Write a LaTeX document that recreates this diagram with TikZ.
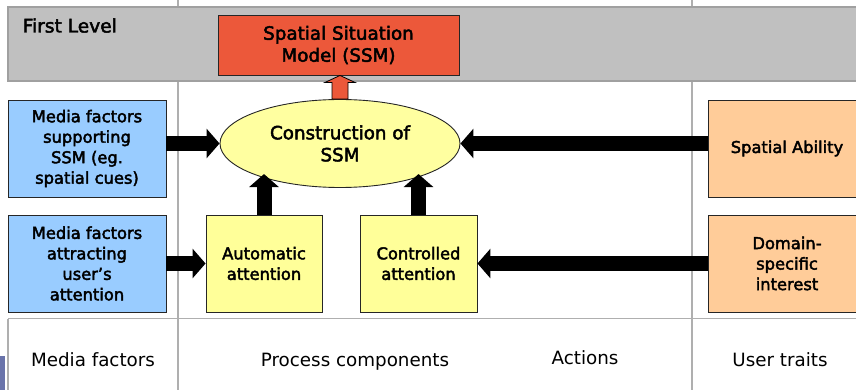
\documentclass[tikz,border=0pt]{standalone}
\usepackage{fontspec}
\usetikzlibrary{arrows.meta,shapes.geometric,calc}
\newfontfamily\bfont{DejaVu Sans}[FakeBold=2.5]
\newfontfamily\rfont{DejaVu Sans}
\definecolor{bandc}{RGB}{192,192,192}
\definecolor{bandl}{RGB}{160,160,160}
\definecolor{gridc}{RGB}{175,175,175}
\definecolor{blue1}{RGB}{153,204,255}
\definecolor{yell}{RGB}{255,255,153}
\definecolor{ellc}{RGB}{255,255,160}
\definecolor{orng}{RGB}{255,204,153}
\definecolor{ssmred}{RGB}{236,88,58}
\definecolor{artc}{RGB}{105,115,170}
\begin{document}
\begin{tikzpicture}[x=1pt,y=-1pt,
  box/.style={draw=black!85, line width=0.9pt, inner sep=0pt, align=center,
    font=\bfont\fontsize{16.3}{20.5}\selectfont},
  big/.style={font=\bfont\fontsize{18.3}{22}\selectfont},
  blk/.style={line width=15pt, -{Triangle[length=13pt,width=29pt]}},
  lbl/.style={font=\rfont\fontsize{18.3}{20}\selectfont, anchor=base},
  grid/.style={draw=gridc, line width=1.3pt}]
\useasboundingbox (0,0) rectangle (856,390);
% column and row lines
\draw[grid] (178,0) -- (178,390);
\draw[grid] (692,0) -- (692,390);
\draw[grid] (8,318.5) -- (860,318.5);
\draw[grid] (8,318.5) -- (8,392);
% first level band
\draw[draw=bandl, fill=bandc, line width=1.2pt] (8,7) rectangle (862,81);
\node[font=\bfont\fontsize{18.6}{20}\selectfont, anchor=base west, inner sep=0pt] (fl) at (22.5,32.5) {First Level};
% small artifact bottom left
\fill[artc] (0,356) rectangle (5,390);
% nodes
\node[box, big, fill=ssmred, minimum width=241pt, minimum height=60pt] (ssm) at (338.5,45)
  {Spatial Situation\\Model (SSM)};
\node[box, big, ellipse, fill=ellc, minimum width=240pt, minimum height=88pt] (ell) at (340,143.5)
  {Construction of\\SSM};
\node[box, fill=blue1, minimum width=158pt, minimum height=97pt] (mf1) at (87,148.5)
  {Media factors\\supporting\\SSM (eg.\\spatial cues)};
\node[box, fill=blue1, minimum width=158pt, minimum height=97pt] (mf2) at (87,263.5)
  {Media factors\\attracting\\user’s\\attention};
\node[box, fill=yell, minimum width=116pt, minimum height=97pt] (auto) at (264,263.5)
  {Automatic\\attention};
\node[box, fill=yell, minimum width=117pt, minimum height=97pt] (ctrl) at (418.5,263.5)
  {Controlled\\attention};
\node[box, fill=orng, minimum width=158pt, minimum height=97pt] (sa) at (787,148.5)
  {\raisebox{-2pt}{Spatial Ability}};
\node[box, fill=orng, minimum width=158pt, minimum height=97pt] (dsi) at (787,263.5)
  {Domain-\\specific\\interest};
% arrows
\draw[blk] (mf1.east |- ell.west) -- (ell.west);
\draw[blk] (sa.west |- ell.east) -- (ell.east);
\draw[blk] (mf2.east) -- (auto.west);
\draw[blk] (dsi.west) -- (ctrl.east);
\draw[blk] (auto.north) -- ($(auto.north |- ell.203)+(0,-3)$);
\draw[blk] (ctrl.north) -- ($(ctrl.north |- ell.337)+(0,-3)$);
% red block arrow up to SSM
\coordinate (rt) at (ell.north |- ssm.south);
\draw[fill=ssmred, draw=black, line width=0.8pt]
  ($(ell.north)+(-8,0)$) -- ($(rt)+(-8,7)$) -- ($(rt)+(-15,7)$) -- (rt)
  -- ($(rt)+(15,7)$) -- ($(rt)+(8,7)$) -- ($(ell.north)+(8,0)$) -- cycle;
% bottom labels
\node[lbl] (l1) at (93,366) {Media factors};
\node[lbl] (l2) at (355,366) {Process components};
\node[lbl] (l3) at (585,364) {Actions};
\node[lbl] (l4) at (780,366) {User traits};
\end{tikzpicture}
\end{document}
